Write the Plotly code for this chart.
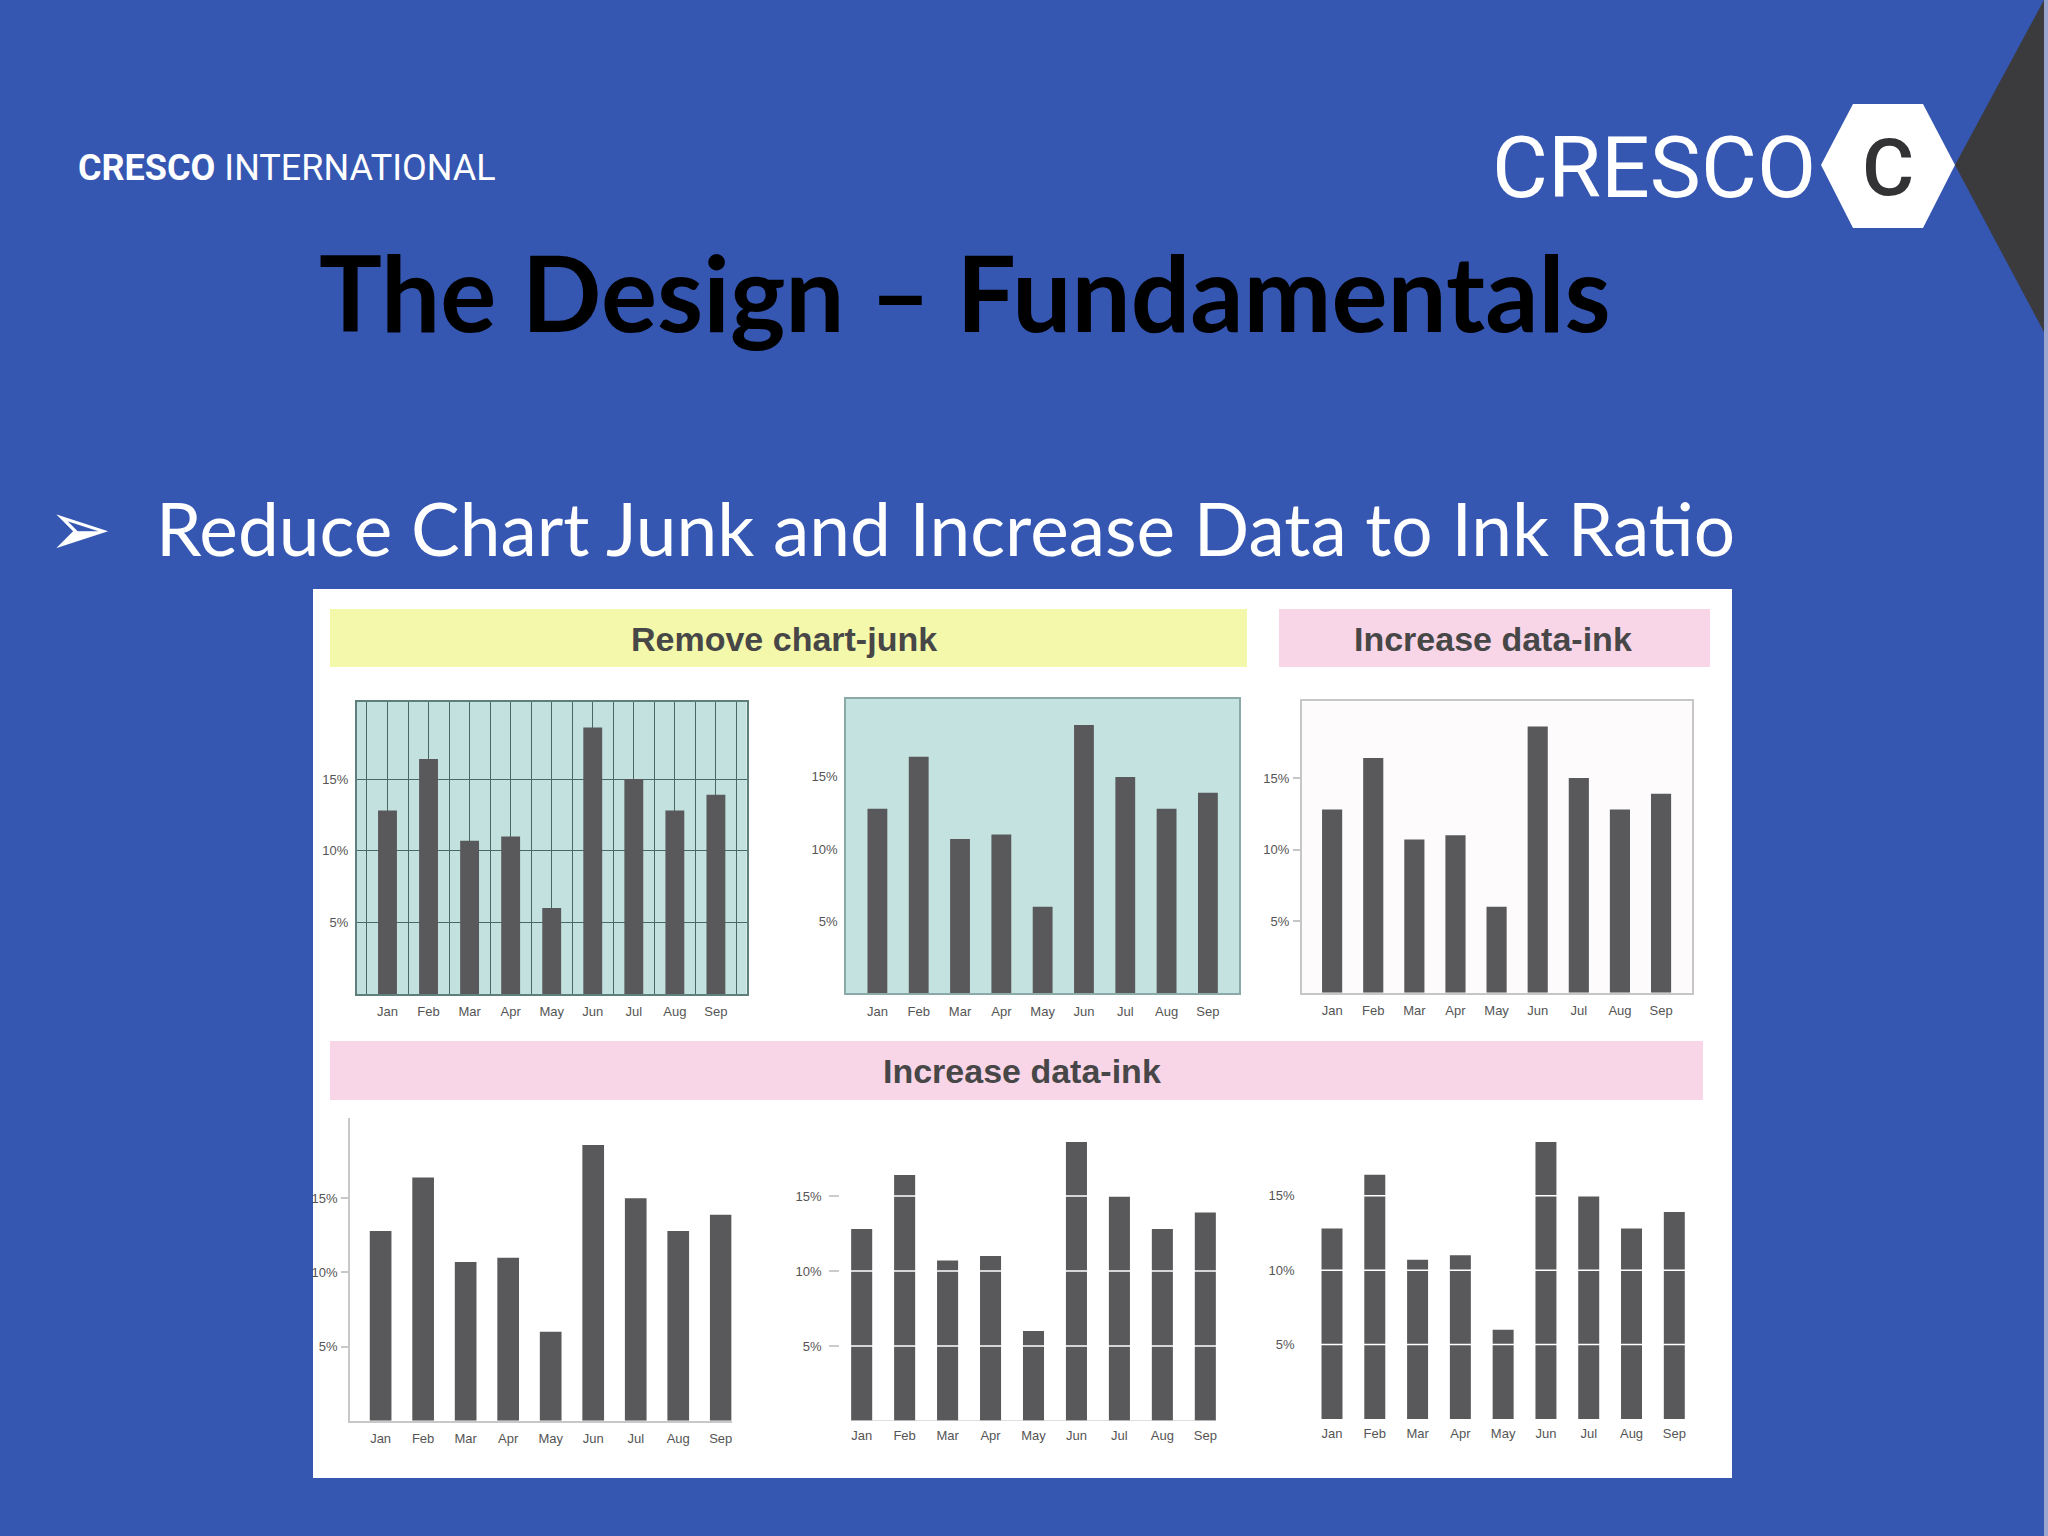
import plotly.graph_objects as go

# ---------------- data ----------------
months = ["Jan", "Feb", "Mar", "Apr", "May", "Jun", "Jul", "Aug", "Sep"]
share = [12.8, 16.4, 10.7, 11.0, 6.0, 18.6, 15.0, 12.8, 13.9]
ytick_vals = [5, 10, 15]
ytick_text = ["5%", "10%", "15%"]
y_max = 20.4

slide_title = "The Design – Fundamentals"
bullet_text = "Reduce Chart Junk and Increase Data to Ink Ratio"
hdr_junk = "Remove chart-junk"
hdr_ink = "Increase data-ink"
logo_small_bold = "CRESCO"
logo_small_reg = "INTERNATIONAL"
logo_big = "CRESCO"
logo_mark = "C"

# ---------------- geometry helpers ----------------
W, H = 2048, 1536
def px(x):
    return x / W
def py(y):
    return 1 - y / H

BLUE = "#3557b2"
BAR = "#59595b"
LBL = "#555555"
TEAL = "#c4e2e0"

# subplot boxes in pixels: (left, right, top, bottom), x-range, bar width
panels = [
    dict(l=356.7, r=746.7, t=701.7, b=994.0, xr=[-0.75, 8.75], bw=0.46),
    dict(l=846.0, r=1239.3, t=699.0, b=993.3, xr=[-0.76, 8.76], bw=0.48),
    dict(l=1301.7, r=1692.3, t=700.7, b=992.7, xr=[-0.74, 8.76], bw=0.49),
    dict(l=350.0, r=731.6, t=1118.3, b=1420.7, xr=[-0.72, 8.255], bw=0.51),
    dict(l=840.2, r=1226.8, t=1115.0, b=1421.0, xr=[-0.5, 8.5], bw=0.49),
    dict(l=1310.6, r=1695.7, t=1115.3, b=1419.0, xr=[-0.5, 8.5], bw=0.49),
]

xpos = list(range(len(months)))

fig = go.Figure()
layout = dict(
    width=W, height=H,
    margin=dict(l=0, r=0, t=0, b=0),
    paper_bgcolor=BLUE,
    plot_bgcolor="rgba(0,0,0,0)",
    showlegend=False,
)

tickfont = dict(family="Liberation Sans, Arial, sans-serif", size=13, color=LBL)

shapes = []
# white panel
shapes.append(dict(type="rect", xref="paper", yref="paper", x0=px(313), x1=px(1732),
                   y0=py(1478), y1=py(589), fillcolor="white", line=dict(width=0), layer="below"))
# header boxes
shapes.append(dict(type="rect", xref="paper", yref="paper", x0=px(330), x1=px(1247),
                   y0=py(667), y1=py(609), fillcolor="#f4f8ab", line=dict(width=0), layer="below"))
shapes.append(dict(type="rect", xref="paper", yref="paper", x0=px(1279), x1=px(1710),
                   y0=py(667), y1=py(609), fillcolor="#f8d6e8", line=dict(width=0), layer="below"))
shapes.append(dict(type="rect", xref="paper", yref="paper", x0=px(330), x1=px(1703),
                   y0=py(1100), y1=py(1041), fillcolor="#f8d6e8", line=dict(width=0), layer="below"))

# dark triangle top right
tri = [(1955, 165), (2044, 0), (2044, 332)]
path = "M " + " L ".join(f"{px(a)},{py(b)}" for a, b in tri) + " Z"
shapes.append(dict(type="path", xref="paper", yref="paper", path=path,
                   fillcolor="#3b3b3d", line=dict(width=0), layer="below"))
shapes.append(dict(type="rect", xref="paper", yref="paper", x0=px(2044), x1=1,
                   y0=0, y1=1, fillcolor="#9aa6cf", line=dict(width=0), layer="below"))
# hexagon
hexpts = [(1821, 165), (1853, 104), (1923, 104), (1955, 165), (1923, 228), (1853, 228)]
path = "M " + " L ".join(f"{px(a)},{py(b)}" for a, b in hexpts) + " Z"
shapes.append(dict(type="path", xref="paper", yref="paper", path=path,
                   fillcolor="white", line=dict(width=0), layer="below"))

for i, p in enumerate(panels, start=1):
    xa = "x" if i == 1 else f"x{i}"
    ya = "y" if i == 1 else f"y{i}"
    xk = "xaxis" if i == 1 else f"xaxis{i}"
    yk = "yaxis" if i == 1 else f"yaxis{i}"
    fig.add_trace(go.Bar(x=xpos, y=share, width=p["bw"], marker=dict(color=BAR, line=dict(width=0)),
                         xaxis=xa, yaxis=ya, hoverinfo="skip"))
    xax = dict(domain=[px(p["l"]), px(p["r"])], range=p["xr"], anchor=ya,
               tickmode="array", tickvals=xpos, ticktext=months, tickfont=tickfont,
               showgrid=False, zeroline=False, showline=False, ticks="",
               ticklabelstandoff=5, fixedrange=True)
    yax = dict(domain=[py(p["b"]), py(p["t"])], range=[0, y_max], anchor=xa,
               tickmode="array", tickvals=ytick_vals, ticktext=ytick_text, tickfont=tickfont,
               showgrid=False, zeroline=False, showline=False, ticks="",
               fixedrange=True)
    if i == 1:
        shapes.append(dict(type="rect", xref="x domain", yref="y domain", x0=0, x1=1, y0=0, y1=1,
                           fillcolor="#c3e2df", line=dict(width=0), layer="below"))
        xax.update(showgrid=True, gridcolor="#4a6866", gridwidth=1.2,
                   minor=dict(tickmode="linear", tick0=-0.5, dtick=1, showgrid=True,
                              gridcolor="#4a6866", gridwidth=1.2, ticks=""),
                   showline=True, mirror=True, linecolor="#5f7f7d", linewidth=1.5)
        yax.update(showgrid=True, gridcolor="#4a6866", gridwidth=1.4,
                   showline=True, mirror=True, linecolor="#5f7f7d", linewidth=1.5,
                   ticklabelstandoff=4)
    elif i == 2:
        shapes.append(dict(type="rect", xref="x2 domain", yref="y2 domain", x0=0, x1=1, y0=0, y1=1,
                           fillcolor=TEAL, line=dict(width=0), layer="below"))
        xax.update(showline=True, mirror=True, linecolor="#8aa9a7", linewidth=1.5)
        yax.update(showline=True, mirror=True, linecolor="#8aa9a7", linewidth=1.5,
                   ticklabelstandoff=4)
        layout["yaxis7"] = dict(overlaying="y2", anchor="x2", side="right", range=[0, y_max],
                                tickmode="array", tickvals=ytick_vals, showticklabels=False,
                                ticks="inside", ticklen=10, tickcolor="#8aa9a7", tickwidth=1.5,
                                showgrid=False, zeroline=False, showline=False, fixedrange=True)
    elif i == 3:
        shapes.append(dict(type="rect", xref="x3 domain", yref="y3 domain", x0=0, x1=1, y0=0, y1=1,
                           fillcolor="#fdfbfc", line=dict(width=0), layer="below"))
        xax.update(showline=True, mirror=True, linecolor="#c6c6c6", linewidth=1.5)
        yax.update(showline=True, mirror=True, linecolor="#c6c6c6", linewidth=1.5,
                   ticks="outside", ticklen=7, tickcolor="#c6c6c6", tickwidth=1.5,
                   ticklabelstandoff=1)
        layout["yaxis8"] = dict(overlaying="y3", anchor="x3", side="right", range=[0, y_max],
                                tickmode="array", tickvals=ytick_vals, showticklabels=False,
                                ticks="inside", ticklen=10, tickcolor="#c6c6c6", tickwidth=1.5,
                                showgrid=False, zeroline=False, showline=False, fixedrange=True)
    elif i == 4:
        xax.update(showline=True, linecolor="#c8c8c8", linewidth=1.5)
        yax.update(showline=True, linecolor="#c8c8c8", linewidth=1.5,
                   ticks="outside", ticklen=7, tickcolor="#c8c8c8", tickwidth=1.5,
                   ticklabelstandoff=1)
    elif i == 5:
        yax.update(ticks="outside", ticklen=10, tickcolor="#cccccc", tickwidth=1.5,
                   ticklabelstandoff=5)
        half = p["bw"] / 2
        shapes.append(dict(type="line", xref="x5", yref="y5", x0=xpos[0] - half, x1=xpos[-1] + half,
                           y0=0, y1=0, line=dict(color="#d4d4d4", width=1.5), layer="above"))
    elif i == 6:
        yax.update(ticklabelstandoff=15)
    if i in (5, 6):
        for v in ytick_vals:
            shapes.append(dict(type="line", xref=f"{xa} domain", yref=ya, x0=0, x1=1, y0=v, y1=v,
                               line=dict(color="white", width=1.5), layer="above"))
    layout[xk] = xax
    layout[yk] = yax

layout["shapes"] = shapes

ann = []
# logo top-left
ann.append(dict(xref="paper", yref="paper", x=px(76), y=py(168), xanchor="left", yanchor="middle",
                text=f"<b>{logo_small_bold}</b> {logo_small_reg}", showarrow=False,
                font=dict(family="Roboto", size=36, color="white")))
# big logo
ann.append(dict(xref="paper", yref="paper", x=px(1490), y=py(167), xanchor="left", yanchor="middle",
                text=logo_big, showarrow=False,
                font=dict(family="Roboto", size=86, color="white")))
ann.append(dict(xref="paper", yref="paper", x=px(1888), y=py(168), xanchor="center", yanchor="middle",
                text=logo_mark, showarrow=False,
                font=dict(family="Roboto", size=80, color="#333335", weight=500)))
# title
ann.append(dict(xref="paper", yref="paper", x=px(317), y=py(291), xanchor="left", yanchor="middle",
                text=f"<b>{slide_title}</b>", showarrow=False,
                font=dict(family="Lato", size=105, color="black")))
# bullet
ann.append(dict(xref="paper", yref="paper", x=px(80), y=py(528), xanchor="center", yanchor="middle",
                text="➢", showarrow=False,
                font=dict(family="DejaVu Sans", size=76, color="white")))
ann.append(dict(xref="paper", yref="paper", x=px(154), y=py(528), xanchor="left", yanchor="middle",
                text=bullet_text, showarrow=False,
                font=dict(family="Lato", size=73, color="white")))
# headers
hfont = dict(family="Liberation Sans, Arial, sans-serif", size=34, color="#474747")
ann.append(dict(xref="paper", yref="paper", x=px(784), y=py(639), xanchor="center", yanchor="middle",
                text=f"<b>{hdr_junk}</b>", showarrow=False, font=hfont))
ann.append(dict(xref="paper", yref="paper", x=px(1493), y=py(639), xanchor="center", yanchor="middle",
                text=f"<b>{hdr_ink}</b>", showarrow=False, font=hfont))
ann.append(dict(xref="paper", yref="paper", x=px(1022), y=py(1071), xanchor="center", yanchor="middle",
                text=f"<b>{hdr_ink}</b>", showarrow=False, font=hfont))
layout["annotations"] = ann

fig.update_layout(**layout)
fig.write_html("out.html", config={"displayModeBar": False},
               post_script="document.body.style.margin='0';document.body.style.overflow='hidden';")
